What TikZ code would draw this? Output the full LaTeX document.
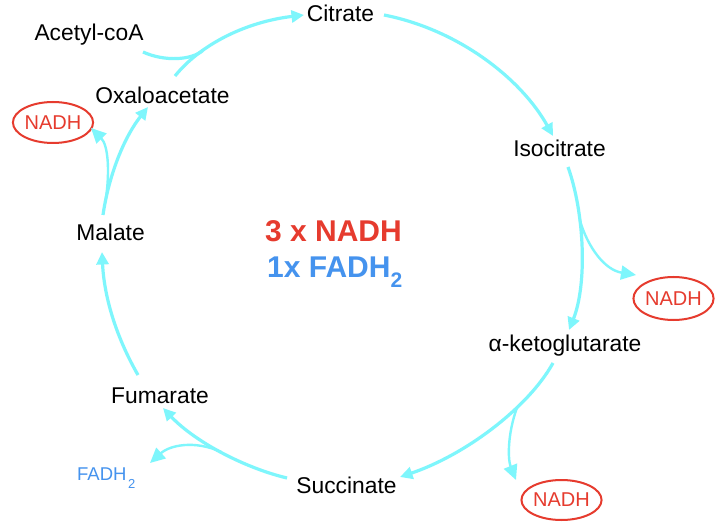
\documentclass[tikz,border=0pt]{standalone}
\usepackage{fontspec}
\setmainfont{Liberation Sans}
\usetikzlibrary{arrows.meta,shapes.geometric,calc}
\definecolor{cyc}{RGB}{126,246,252}
\definecolor{nred}{RGB}{230,59,46}
\definecolor{fblue}{RGB}{69,147,238}
\tikzset{
  lbl/.style={anchor=base,inner sep=0pt,font=\fontsize{22.8}{26}\selectfont},
  nadhbox/.style={ellipse,draw=nred,line width=2pt,text=nred,inner sep=0pt,
    font=\fontsize{20}{24}\selectfont},
  mainarrow/.style={draw=cyc,line width=3.2pt,-{Triangle[length=12.5pt,width=12pt]}},
  mainline/.style={draw=cyc,line width=3.2pt},
  brancharrow/.style={draw=cyc,line width=2.4pt,-{Triangle[length=15pt,width=14pt]}},
}
\begin{document}
\begin{tikzpicture}[x=1pt,y=-1pt]
\useasboundingbox[fill=white] (0,0) rectangle (717,526);
% labels
\node[lbl] (acet) at (89,41) {Acetyl-coA};
\node[lbl] (cit) at (340.5,22) {Citrate};
\node[lbl] (oxa) at (162.5,104) {Oxaloacetate};
\node[lbl] (mal) at (110.5,241) {Malate};
\node[lbl] (iso) at (559.5,157) {Isocitrate};
\node[lbl] (akg) at (565,352) {α-ketoglutarate};
\node[lbl] (suc) at (346.5,493) {Succinate};
\node[lbl] (fum) at (160,403) {Fumarate};
\node[anchor=base west,inner sep=0pt,text=fblue,font=\fontsize{18.5}{22}\selectfont] (fadh) at (77,480)
  {FADH\kern1.5pt\raisebox{-8pt}{\fontsize{13}{13}\selectfont 2}};
\node[nadhbox,minimum width=76pt,minimum height=41pt] (nadh1) at (53,122.5) {NADH};
\node[nadhbox,minimum width=77pt,minimum height=43pt] (nadh2) at (673.5,298.5) {NADH};
\node[nadhbox,minimum width=77pt,minimum height=40pt] (nadh3) at (561.5,500) {NADH};
\node[anchor=base,inner sep=0pt,text=nred,font=\fontsize{30}{34}\selectfont\bfseries] (tot1) at (333.5,242) {3 x NADH};
\node[anchor=base west,inner sep=0pt,text=fblue,font=\fontsize{30}{34}\selectfont\bfseries] (tot2) at (267,278)
  {1x FADH\raisebox{-10pt}{\fontsize{21}{21}\selectfont 2}};
% Oxaloacetate -> Citrate (with Acetyl-coA joining)
\draw[mainarrow] ([shift={(12.5,-28)}]oxa.base) .. controls (200,45) and (245,22) .. ([shift={(-36.5,-7)}]cit.base) coordinate[pos=0.3] (bc);
\draw[mainline] ([shift={(54,11)}]acet.base) .. controls (165,62) and (192,60) .. (bc);
% Citrate -> Isocitrate
\draw[mainarrow] ([shift={(43.5,-7)}]cit.base) .. controls (460,30) and (522,80) .. ([shift={(-6.5,-21)}]iso.base);
% Isocitrate -> alpha-ketoglutarate, NADH
\draw[mainarrow] ([shift={(8.5,10)}]iso.base) .. controls (585,215) and (587,285) .. ([shift={(4,-22)}]akg.base) coordinate[pos=0.33] (bi);
\draw[brancharrow] (bi) .. controls (588,248) and (605,270) .. ([shift={(-37.5,-23.5)}]nadh2.center);
% alpha-ketoglutarate -> Succinate, NADH
\draw[mainarrow] ([shift={(-12,11)}]akg.base) .. controls (528,408) and (465,455) .. ([shift={(53.5,-16)}]suc.base) coordinate[pos=0.33] (bk);
\draw[brancharrow] (bk) .. controls (507,435) and (508,460) .. ([shift={(-45.5,-20)}]nadh3.center);
% Succinate -> Fumarate, FADH2
\draw[mainarrow] ([shift={(-59.5,-15)}]suc.base) .. controls (245,468) and (195,442) .. ([shift={(3,5)}]fum.base) coordinate[pos=0.5] (bs);
\draw[brancharrow] (bs) .. controls (195,440) and (170,445) .. ([shift={(73,-17)}]fadh.base west);
% Fumarate -> Malate
\draw[mainarrow] ([shift={(-22,-28)}]fum.base) .. controls (115,335) and (104,295) .. ([shift={(-8.5,11)}]mal.base);
% Malate -> Oxaloacetate, NADH
\draw[mainarrow] ([shift={(-7.5,-26)}]mal.base) .. controls (108,180) and (122,140) .. ([shift={(-14.5,3)}]oxa.base) coordinate[pos=0.15] (bm);
\draw[brancharrow] (bm) .. controls (110,170) and (108,145) .. ([shift={(38,5.5)}]nadh1.center);
\end{tikzpicture}
\end{document}
